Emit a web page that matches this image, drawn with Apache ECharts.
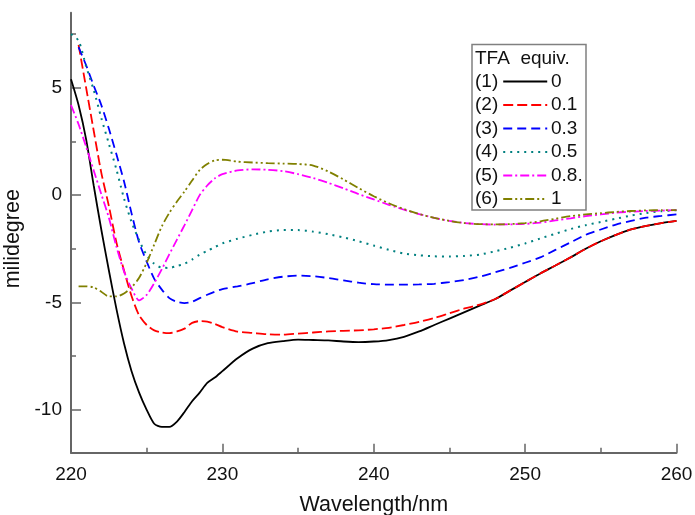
<!DOCTYPE html>
<html>
<head>
<meta charset="utf-8">
<script src="https://cdn.jsdelivr.net/npm/echarts@6.0.0/dist/echarts.min.js"></script>
<style>
html,body{margin:0;padding:0;background:#fff;}
#chart{width:695px;height:515px;}
</style>
</head>
<body>
<div id="chart"></div>
<script>
// ---- data ----
const wavelengths = [220,220.5,221,221.5,222,222.5,223,223.5,224,224.5,225,225.5,226,226.5,227,227.5,228,228.5,229,229.5,230,
  231,232,233,234,235,236,237,238,239,240,
  241,242,243,244,245,246,247,248,249,250,
  251,252,253,254,255,256,257,258,259,260];

const equivLabels = ['0','0.1','0.3','0.5','0.8.','1'];

const cd0 = [5.4,4.2,2.6,0.45,-1.6,-3.5,-5.3,-6.9,-8.2,-9.2,-10.0,-10.65,-10.8,-10.8,-10.55,-10.1,-9.6,-9.2,-8.75,-8.5,-8.2,
  -7.6,-7.15,-6.9,-6.8,-6.73,-6.75,-6.77,-6.82,-6.85,-6.82,
  -6.75,-6.6,-6.35,-6.05,-5.75,-5.45,-5.15,-4.85,-4.45,-4.05,
  -3.65,-3.28,-2.9,-2.5,-2.15,-1.85,-1.6,-1.43,-1.3,-1.2];

const cd01 = [null,7.0,5.0,3.0,1.05,-0.5,-2.2,-3.5,-4.7,-5.6,-6.05,-6.3,-6.4,-6.43,-6.35,-6.22,-5.95,-5.87,-5.89,-6.0,-6.15,
  -6.36,-6.42,-6.48,-6.5,-6.45,-6.4,-6.35,-6.32,-6.3,-6.25,
  -6.18,-6.05,-5.9,-5.72,-5.5,-5.28,-5.1,-4.85,-4.45,-4.05,
  -3.65,-3.28,-2.9,-2.5,-2.15,-1.85,-1.6,-1.43,-1.3,-1.2];

const cd03 = [null,6.9,6.05,5.1,4.2,3.1,1.9,0.65,-0.85,-2.2,-3.1,-3.9,-4.4,-4.8,-4.97,-5.03,-4.97,-4.8,-4.64,-4.5,-4.38,
  -4.25,-4.1,-3.92,-3.8,-3.75,-3.78,-3.86,-3.97,-4.08,-4.15,
  -4.17,-4.17,-4.16,-4.13,-4.05,-3.95,-3.8,-3.6,-3.39,-3.15,
  -2.9,-2.55,-2.2,-1.85,-1.6,-1.37,-1.2,-1.05,-0.97,-0.9];

const cd05 = [7.5,7.2,6.0,4.9,3.6,2.4,1.2,-0.15,-1.25,-2.1,-2.8,-3.2,-3.38,-3.39,-3.3,-3.2,-3.0,-2.77,-2.6,-2.42,-2.25,
  -2.03,-1.85,-1.7,-1.63,-1.63,-1.7,-1.82,-1.97,-2.15,-2.35,
  -2.55,-2.72,-2.8,-2.85,-2.86,-2.83,-2.77,-2.62,-2.45,-2.25,
  -2.02,-1.8,-1.58,-1.4,-1.25,-1.1,-0.95,-0.83,-0.75,-0.7];

const cd08 = [4.2,3.3,2.25,1.15,0.05,-1.05,-2.4,-3.55,-4.35,-4.9,-4.65,-4.1,-3.45,-2.75,-2.07,-1.4,-0.7,0.0,0.45,0.78,0.98,
  1.15,1.2,1.18,1.12,0.98,0.8,0.57,0.32,0.05,-0.2,
  -0.45,-0.68,-0.88,-1.06,-1.2,-1.3,-1.35,-1.37,-1.36,-1.34,
  -1.28,-1.18,-1.08,-0.98,-0.9,-0.82,-0.77,-0.74,-0.72,-0.7];

const cd1 = [null,-4.25,-4.25,-4.3,-4.5,-4.72,-4.72,-4.58,-4.3,-3.85,-3.15,-2.3,-1.45,-0.82,-0.3,0.17,0.68,1.17,1.45,1.62,1.65,
  1.56,1.52,1.49,1.47,1.45,1.38,1.1,0.73,0.33,-0.05,
  -0.38,-0.65,-0.88,-1.06,-1.2,-1.3,-1.35,-1.36,-1.35,-1.3,
  -1.22,-1.1,-0.98,-0.9,-0.84,-0.78,-0.74,-0.71,-0.7,-0.7];

const seriesValues = [cd0, cd01, cd03, cd05, cd08, cd1];

const yMajorTicks = [-10, -5, 0, 5];
const yMinorTicks = [-7.5, -2.5, 2.5, 7.5];

// ---- styles ----
const FONT = "'Liberation Sans', Arial, Helvetica, sans-serif";
const AXIS_COLOR = '#666';
const TEXT_COLOR = '#111';
const lineStyles = [
  {color:'#000000', type:'solid', width:1.8},
  {color:'#ff0000', type:[10,4], width:1.8},
  {color:'#0000ff', type:[9,5], width:1.8},
  {color:'#008080', type:[2,5], width:2},
  {color:'#ff00ff', type:[9,3,2,3], width:1.8},
  {color:'#808000', type:[9,3,2,3,2,3], width:1.8}
];

const series = equivLabels.map((name, i) => ({
  name: name,
  type: 'line',
  xAxisIndex: 0,
  yAxisIndex: 0,
  showSymbol: false,
  symbol: 'none',
  smooth: 0.25,
  connectNulls: false,
  animation: false,
  lineStyle: lineStyles[i],
  itemStyle: {color: lineStyles[i].color},
  data: wavelengths.map((w, k) => [w, seriesValues[i][k]])
}));

const legendTop = 72;
const rowStep = 23.5;

const chart = echarts.init(document.getElementById('chart'), null, {renderer: 'canvas'});
chart.setOption({
  animation: false,
  backgroundColor: '#fff',
  grid: {left: 71, right: 18.5, top: 12.7, bottom: 62.3, containLabel: false, outerBoundsMode: 'none'},
  xAxis: {
    type: 'value', min: 220, max: 260, interval: 10,
    name: 'Wavelength/nm', nameLocation: 'middle', nameGap: 41,
    nameTextStyle: {fontSize: 21.5, fontFamily: FONT, color: TEXT_COLOR},
    axisLine: {show: true, onZero: false, lineStyle: {color: AXIS_COLOR, width: 2}},
    axisTick: {show: true, inside: true, length: 9, lineStyle: {color: AXIS_COLOR, width: 1.5}},
    minorTick: {show: true, splitNumber: 2, length: 5, lineStyle: {color: AXIS_COLOR, width: 1.5}},
    axisLabel: {fontSize: 19, fontFamily: FONT, color: TEXT_COLOR, margin: 13},
    splitLine: {show: false},
    minorSplitLine: {show: false}
  },
  yAxis: [{
    type: 'value', min: -12, max: 8.5, position: 'left',
    name: 'milidegree', nameLocation: 'middle', nameGap: 30,
    nameTextStyle: {fontSize: 21.5, fontFamily: FONT, color: TEXT_COLOR, padding: [0, 12, 0, 0]},
    axisLine: {show: true, onZero: false, lineStyle: {color: AXIS_COLOR, width: 2}},
    axisTick: {show: true, inside: true, length: 10, customValues: yMajorTicks, lineStyle: {color: AXIS_COLOR, width: 1.5}},
    axisLabel: {fontSize: 19, fontFamily: FONT, color: TEXT_COLOR, margin: 9, customValues: yMajorTicks},
    splitLine: {show: false}
  }, {
    type: 'value', min: -12, max: 8.5, position: 'left', offset: 0,
    axisLine: {show: false, onZero: false},
    axisTick: {show: true, inside: true, length: 5, customValues: yMinorTicks, lineStyle: {color: AXIS_COLOR, width: 1.5}},
    axisLabel: {show: false, customValues: yMinorTicks},
    splitLine: {show: false}
  }],
  legend: {
    orient: 'vertical', left: 475, top: legendTop, align: 'right',
    itemWidth: 44, itemHeight: 14, itemGap: rowStep - 19, padding: 0,
    selectedMode: false,
    itemStyle: {opacity: 0},
    data: equivLabels,
    formatter: name => '(' + (equivLabels.indexOf(name) + 1) + ')',
    textStyle: {fontSize: 19, fontFamily: FONT, color: TEXT_COLOR}
  },
  graphic: [
    {type: 'rect', z: 100, shape: {x: 472, y: 44.5, width: 114, height: 165.5},
      style: {fill: 'none', stroke: '#808080', lineWidth: 1.5}},
    {type: 'text', z: 100, x: 475, y: 59,
      style: {text: 'TFA  equiv.', fontSize: 19, fontFamily: FONT, fill: TEXT_COLOR, verticalAlign: 'middle'}}
  ].concat(equivLabels.map((t, i) => ({
    type: 'text', z: 100, x: 551, y: legendTop + 9.5 + i * rowStep,
    style: {text: t, fontSize: 19, fontFamily: FONT, fill: TEXT_COLOR, verticalAlign: 'middle'}
  }))),
  series: series
});
</script>
</body>
</html>
